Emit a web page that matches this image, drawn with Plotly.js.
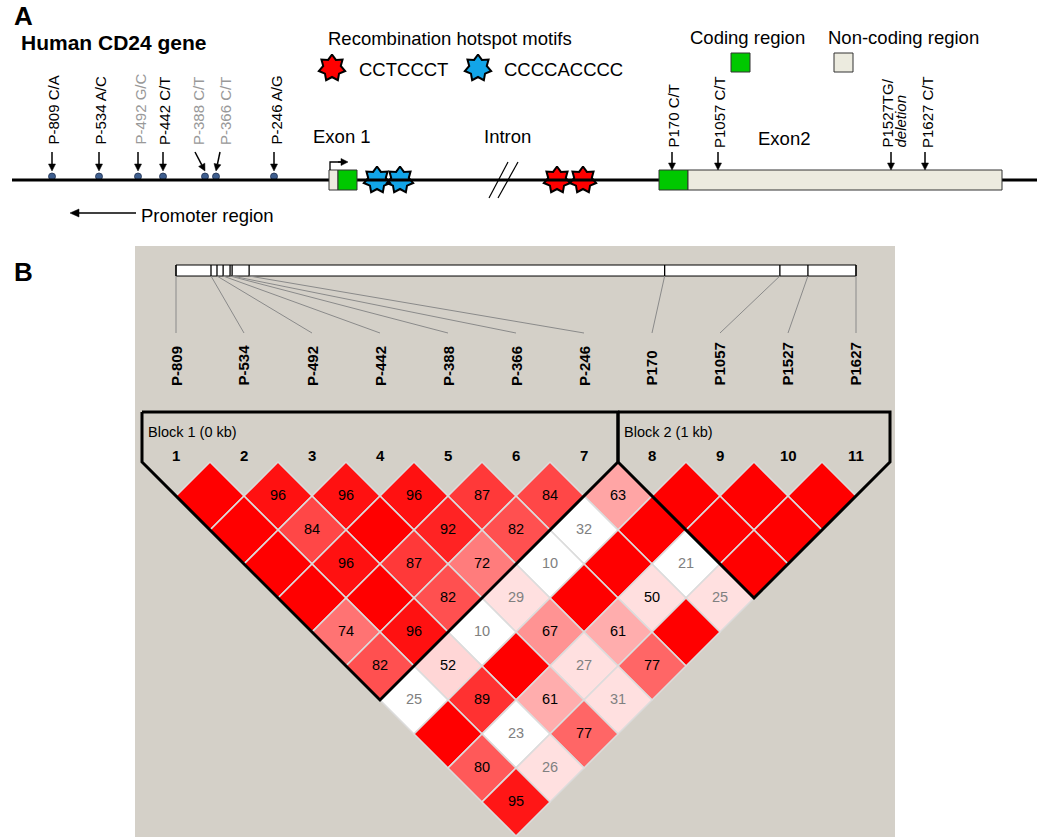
<!DOCTYPE html>
<html><head><meta charset="utf-8">
<script src="https://cdn.plot.ly/plotly-3.0.1.min.js"></script>
<style>html,body{margin:0;padding:0;background:#fff}#chart{width:1050px;height:837px}</style>
</head><body><div id="chart"></div>
<script>
// ================= DATA =================
// Panel A: schematic of the human CD24 gene (positions along the drawn gene line)
const promoterSnpLabels = ['P-809 C/A','P-534 A/C','P-492 G/C','P-442 C/T','P-388 C/T','P-366 C/T','P-246 A/G'];
const promoterSnpPos    = [52, 99, 138, 163, 205, 216, 274];
const promoterLabelPos  = [53, 100, 140, 164, 198, 225, 276];
const promoterArrowTail = [52, 99, 138, 163, 195, 220, 274];
const promoterSnpGray   = [false, false, true, false, true, true, false];
const exon2SnpLabels    = ['P170 C/T', 'P1057 C/T', 'P1527TG/', 'P1627 C/T'];
const exon2SnpPos       = [672, 718, 891, 925];
const exon2LabelPos     = [673, 719, 887, 927];
const blueMotifPos      = [377, 400];   // CCCCACCCC
const redMotifPos       = [557, 583];   // CCTCCCT
const exon1Span = {nonCoding: [329, 338], coding: [338, 357]};
const exon2Span = {coding: [659, 688], nonCoding: [688, 1002]};

// Panel B: Haploview LD plot
const markerNames = ['P-809','P-534','P-492','P-442','P-388','P-366','P-246','P170','P1057','P1527','P1627'];
const physPos     = [0, 257, 301, 346, 397, 412, 537, 3588, 4434, 4640, 4993]; // bp (estimated, relative)
const blocks = [{name: 'Block 1 (0 kb)', first: 1, last: 7}, {name: 'Block 2 (1 kb)', first: 8, last: 11}];
// pairwise D' (x100), listed by marker pair
const pairI  = [1,2,3,4,5,6,7,8,9,10, 1,2,3,4,5,6,7,8,9, 1,2,3,4,5,6,7,8, 1,2,3,4,5,6,7, 1,2,3,4,5,6, 1,2,3,4,5, 1,2,3,4, 1,2,3, 1,2, 1];
const pairJ  = [2,3,4,5,6,7,8,9,10,11, 3,4,5,6,7,8,9,10,11, 4,5,6,7,8,9,10,11, 5,6,7,8,9,10,11, 6,7,8,9,10,11, 7,8,9,10,11, 8,9,10,11, 9,10,11, 10,11, 11];
const dPrime = [100,96,96,96,87,84,63,100,100,100,
                100,84,100,92,82,32,100,100,100,
                100,96,87,72,10,100,21,100,
                100,100,82,29,100,50,25,
                74,96,10,67,61,100,
                82,52,100,27,77,
                25,89,61,31,
                100,23,77,
                80,26,
                95];
// 1 = LOD >= 2 (strong evidence), 0 = LOD < 2
const lodStrong = [1,1,1,1,1,1,1,1,1,1,
                   1,1,1,1,1,0,1,1,1,
                   1,1,1,1,0,1,0,1,
                   1,1,1,1,1,1,1,
                   1,1,0,1,1,1,
                   1,1,1,1,1,
                   0,1,1,1,
                   1,0,1,
                   1,1,
                   1];

// ================= HELPERS =================
const FONT = 'Arial, "Liberation Sans", sans-serif';
const shapes = [];
const annotations = [];
const traces = [];

function txt(x, y, text, opt) {
  annotations.push(Object.assign({x, y, text, xref: 'x', yref: 'y', showarrow: false,
    font: {family: FONT, size: 18.5, color: '#000'}, xanchor: 'center', yanchor: 'middle'}, opt || {}));
}
function arrow(x0, y0, x1, y1, color, w, hl, hw) {
  const dx = x1 - x0, dy = y1 - y0, L = Math.hypot(dx, dy), ux = dx / L, uy = dy / L;
  hl = hl || 7; hw = hw || 3.5;
  const bx = x1 - ux * hl, by = y1 - uy * hl, px = -uy, py = ux;
  shapes.push({type: 'line', xref: 'x', yref: 'y', x0, y0, x1: bx, y1: by, line: {color, width: w}});
  shapes.push({type: 'path', xref: 'x', yref: 'y', fillcolor: color, line: {color, width: 0.5},
    path: `M${x1},${y1} L${bx + px * hw},${by + py * hw} L${bx - px * hw},${by - py * hw} Z`});
}
function star(cx, cy, R, r, n) {
  const xs = [], ys = [];
  for (let k = 0; k <= 2 * n; k++) {
    const a = -Math.PI / 2 + k * Math.PI / n;
    const rr = k % 2 === 0 ? R : r;
    xs.push(cx + rr * Math.cos(a)); ys.push(cy + rr * Math.sin(a));
  }
  return {xs, ys};
}
function starTrace(centers, cy, color) {
  let xs = [], ys = [];
  centers.forEach((c, k) => {
    const s = star(c, cy, 13.5, 9, 7);
    if (k) { xs.push(null); ys.push(null); }
    xs = xs.concat(s.xs); ys = ys.concat(s.ys);
  });
  traces.push({type: 'scatter', mode: 'lines', x: xs, y: ys, xaxis: 'x', yaxis: 'y', fill: 'toself',
    fillcolor: color, line: {color: '#000', width: 2}, hoverinfo: 'skip', showlegend: false});
}
function rect(x0, y0, x1, y1, fill, ref) {
  shapes.push({type: 'rect', xref: ref ? ref[0] : 'x', yref: ref ? ref[1] : 'y', x0, y0, x1, y1,
    fillcolor: fill, line: {color: '#333', width: 1}});
}

const GREEN = '#00c800', BEIGE = '#ecebdf';
const GENE_Y = 180;

// ================= PANEL A =================
txt(12, 16, '<b>A</b>', {xanchor: 'left', font: {family: FONT, size: 26, color: '#000'}});
txt(12, 272, '<b>B</b>', {xanchor: 'left', font: {family: FONT, size: 26, color: '#000'}});
txt(19, 42, '<b>Human CD24 gene</b>', {xanchor: 'left', font: {family: FONT, size: 21, color: '#000'}});

// gene line
shapes.push({type: 'line', xref: 'x', yref: 'y', x0: 12, x1: 1037, y0: GENE_Y, y1: GENE_Y, line: {color: '#000', width: 3}});
// intron break marks
shapes.push({type: 'line', xref: 'x', yref: 'y', x0: 489, y0: 198, x1: 508, y1: 162, line: {color: '#000', width: 1.2}});
shapes.push({type: 'line', xref: 'x', yref: 'y', x0: 498, y0: 198, x1: 518, y1: 162, line: {color: '#000', width: 1.2}});

// exons
rect(exon1Span.nonCoding[0], 170, exon1Span.nonCoding[1], 190, BEIGE);
rect(exon1Span.coding[0], 170, exon1Span.coding[1], 190, GREEN);
rect(exon2Span.coding[0], 170, exon2Span.coding[1], 190, GREEN);
rect(exon2Span.nonCoding[0], 170, exon2Span.nonCoding[1], 190, BEIGE);
// legend squares
rect(731, 53, 750, 72, GREEN);
rect(834, 53, 853, 72, BEIGE);

// transcription start arrow
shapes.push({type: 'path', xref: 'x', yref: 'y', path: 'M330,170 L330,162 L341,162', line: {color: '#000', width: 1.3}});
arrow(338, 162, 348, 162, '#000', 1.3, 7, 3.5);

// promoter SNPs
promoterSnpPos.forEach((p, k) => {
  arrow(promoterArrowTail[k], 152, p, 171, '#000', 1.5, 7, 3.5);
  txt(promoterLabelPos[k], 147, promoterSnpLabels[k], {textangle: -90, yanchor: 'bottom',
    font: {family: FONT, size: 15, color: promoterSnpGray[k] ? '#999999' : '#000'}});
});
traces.push({type: 'scatter', mode: 'markers', x: promoterSnpPos, y: promoterSnpPos.map(() => 176.5),
  xaxis: 'x', yaxis: 'y', marker: {size: 7, color: '#3f5f8f', line: {color: '#1f3050', width: 0.8}},
  hoverinfo: 'skip', showlegend: false});

// exon 2 SNPs
exon2SnpPos.forEach((p, k) => {
  arrow(p, 152, p, 170, '#000', 1.5, 7, 3.5);
  txt(exon2LabelPos[k], 150, exon2SnpLabels[k], {textangle: -90, yanchor: 'bottom',
    font: {family: FONT, size: 15, color: '#000'}});
});
txt(900, 150, '<i>deletion</i>', {textangle: -90, yanchor: 'bottom', font: {family: FONT, size: 15, color: '#000'}});

// motif stars
starTrace(blueMotifPos, GENE_Y, '#12a5e8');
starTrace(redMotifPos, GENE_Y, '#ff0000');
starTrace([332], 68, '#ff0000');
starTrace([478], 68, '#12a5e8');

// texts
txt(326, 38, 'Recombination hotspot motifs', {xanchor: 'left'});
txt(357, 69, 'CCTCCCT', {xanchor: 'left'});
txt(502, 69, 'CCCCACCCC', {xanchor: 'left'});
txt(688, 37, 'Coding region', {xanchor: 'left'});
txt(826, 37, 'Non-coding region', {xanchor: 'left'});
txt(311, 136, 'Exon 1', {xanchor: 'left'});
txt(482, 136, 'Intron', {xanchor: 'left'});
txt(756, 138, 'Exon2', {xanchor: 'left'});
txt(139, 215, 'Promoter region', {xanchor: 'left'});
arrow(136, 213, 70, 213, '#000', 1.5, 9, 4);

// ================= PANEL B =================
shapes.push({type: 'rect', xref: 'x', yref: 'y', x0: 135, x1: 895, y0: 246, y1: 840, fillcolor: '#d4d0c8',
  line: {width: 0}, layer: 'below'});

const nM = markerNames.length;
const p0 = physPos[0], pN = physPos[nM - 1];
const barX = p => 1 + (nM - 1) * (p - p0) / (pN - p0);
const BAR_TOP = -2.897, BAR_BOT = -2.735, CONN_BOT = -1.897, LABEL_BOT = -1.088;

// physical map bar
shapes.push({type: 'rect', xref: 'x2', yref: 'y2', x0: 1, x1: nM, y0: BAR_TOP, y1: BAR_BOT, fillcolor: '#fff', line: {color: '#000', width: 1}});
physPos.forEach((p, k) => {
  shapes.push({type: 'line', xref: 'x2', yref: 'y2', x0: barX(p), x1: barX(p), y0: BAR_TOP, y1: BAR_BOT, line: {color: '#000', width: 1.3}});
  shapes.push({type: 'line', xref: 'x2', yref: 'y2', x0: barX(p), x1: k + 1, y0: BAR_BOT, y1: CONN_BOT, line: {color: '#8a8a8a', width: 1}});
  annotations.push({x: k + 1, y: LABEL_BOT, xref: 'x2', yref: 'y2', text: '<b>' + markerNames[k] + '</b>', showarrow: false,
    textangle: -90, xanchor: 'center', yanchor: 'bottom', font: {family: FONT, size: 15, color: '#000'}});
  annotations.push({x: k + 1, y: -0.1, xref: 'x2', yref: 'y2', text: '<b>' + (k + 1) + '</b>', showarrow: false,
    xanchor: 'center', yanchor: 'middle', font: {family: FONT, size: 15, color: '#000'}});
});

// LD cells
function cellColor(d, strong) {
  const dp = d / 100;
  if (strong) {
    if (dp < 0.5) return 'rgb(255,224,224)';
    const g = Math.floor((255 - 32) * 2 * (1 - dp));
    return `rgb(255,${g},${g})`;
  }
  return dp > 0.99 ? 'rgb(192,192,240)' : '#ffffff';
}
const cx = [], cy = [], cc = [], ct = [], ctc = [];
dPrime.forEach((d, k) => {
  const i = pairI[k], j = pairJ[k];
  cx.push((i + j) / 2); cy.push((j - i) / 2);
  cc.push(cellColor(d, lodStrong[k]));
  ct.push(d >= 100 ? '' : String(d));
  ctc.push(d < 50 ? '#808080' : '#000000');
});
traces.push({type: 'scatter', mode: 'markers+text', x: cx, y: cy, xaxis: 'x2', yaxis: 'y2',
  marker: {symbol: 'diamond', size: 52.3, color: cc, line: {color: '#dcdcdc', width: 1.6}},
  text: ct, textposition: 'middle center', textfont: {family: FONT, size: 14.5, color: ctc},
  hoverinfo: 'skip', showlegend: false});

// block outlines
const BOX_TOP = -0.735;
blocks.forEach(b => {
  const l = b.first - 0.5, r = b.last + 0.5;
  const vx = (b.first + b.last) / 2, vy = (b.last - b.first) / 2 + 0.5;
  traces.push({type: 'scatter', mode: 'lines', xaxis: 'x2', yaxis: 'y2',
    x: [l, l, vx, r, r, l], y: [BOX_TOP, 0, vy, 0, BOX_TOP, BOX_TOP],
    line: {color: '#000', width: 3}, hoverinfo: 'skip', showlegend: false});
  annotations.push({x: l + 0.06, y: -0.44, xref: 'x2', yref: 'y2', text: b.name, showarrow: false,
    xanchor: 'left', yanchor: 'middle', font: {family: FONT, size: 14.5, color: '#000'}});
});

const hidden = {visible: false, fixedrange: true, showgrid: false, zeroline: false};
const layout = {
  width: 1050, height: 837, margin: {l: 0, r: 0, t: 0, b: 0},
  paper_bgcolor: '#fff', plot_bgcolor: 'rgba(0,0,0,0)', showlegend: false, hovermode: false,
  xaxis: Object.assign({range: [0, 1050], domain: [0, 1]}, hidden),
  yaxis: Object.assign({range: [837, 0], domain: [0, 1]}, hidden),
  xaxis2: Object.assign({range: [1 - 176 / 68, 1 - 176 / 68 + 1050 / 68], overlaying: 'x', anchor: 'y2'}, hidden),
  yaxis2: Object.assign({range: [(837 - 462) / 68, -462 / 68], overlaying: 'y', anchor: 'x2'}, hidden),
  shapes, annotations
};
Plotly.newPlot('chart', traces, layout, {staticPlot: true, displayModeBar: false});
</script></body></html>
